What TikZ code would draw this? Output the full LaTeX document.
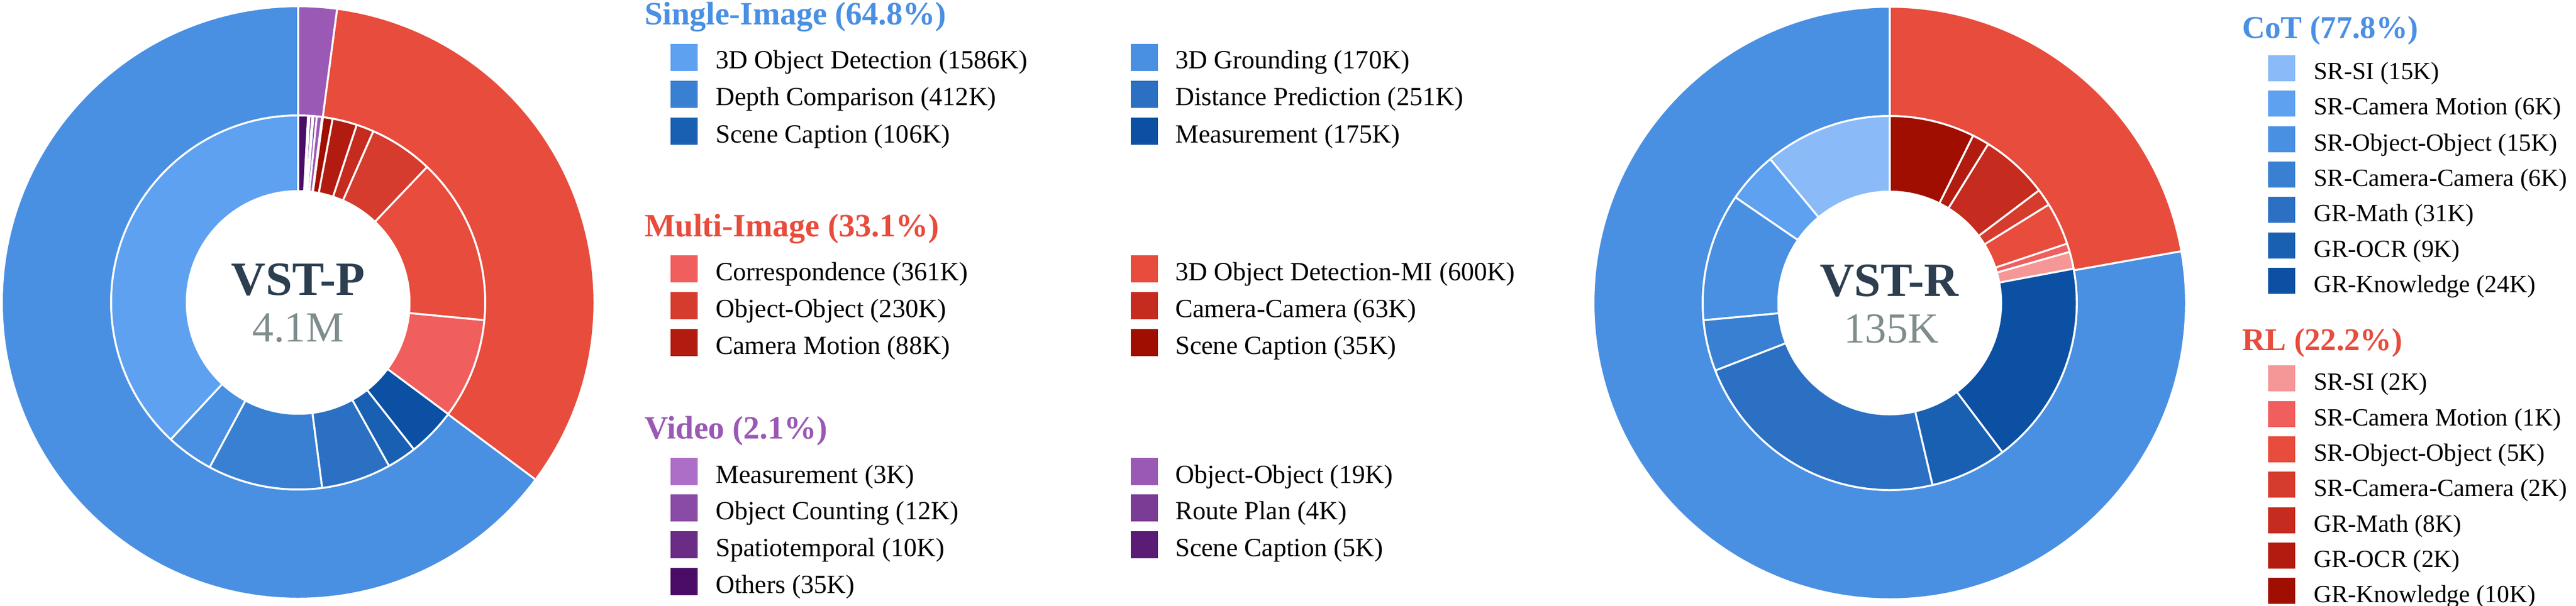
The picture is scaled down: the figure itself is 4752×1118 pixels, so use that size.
\documentclass[tikz,border=0pt]{standalone}
\usepackage{fontspec}
\setmainfont{Liberation Serif}
\definecolor{b1}{HTML}{8ABAF8}
\definecolor{b2}{HTML}{5DA1F0}
\definecolor{b3}{HTML}{4A90E2}
\definecolor{b4}{HTML}{3A80D2}
\definecolor{b5}{HTML}{2B70C2}
\definecolor{b6}{HTML}{1A60B2}
\definecolor{b7}{HTML}{0B50A2}
\definecolor{r1}{HTML}{F59797}
\definecolor{r2}{HTML}{F05E5E}
\definecolor{r3}{HTML}{E74C3C}
\definecolor{r4}{HTML}{D63C2E}
\definecolor{r5}{HTML}{C52B1E}
\definecolor{r6}{HTML}{B21C10}
\definecolor{r7}{HTML}{A00E00}
\definecolor{p1}{HTML}{AD6EC8}
\definecolor{p2}{HTML}{9B59B6}
\definecolor{p3}{HTML}{8A4BA6}
\definecolor{p4}{HTML}{7B3C95}
\definecolor{p5}{HTML}{6B2C86}
\definecolor{p6}{HTML}{5B1C76}
\definecolor{p7}{HTML}{4A0C66}
\definecolor{ctext}{HTML}{2C3E50}
\definecolor{cgray}{HTML}{7F8C8D}
% segment: center, r_in, r_out, a1, a2, colour
\newcommand\dseg[6]{\filldraw[seg, fill=#6, shift={(#1)}] (#4:#3) arc[start angle=#4, end angle=#5, radius=#3] -- (#5:#2) arc[start angle=#5, end angle=#4, radius=#2] -- cycle;}
% left legend item: name, swatch x, text x, top, colour, text
\newcommand\lgitem[6]{\fill[#5] (#2,-#4) rectangle ++(50,-50); \node[lgtext] (#1) at (#3,-#4-46) {#6};}
% right legend item
\newcommand\rgitem[6]{\fill[#5] (#2,-#4) rectangle ++(50,-48); \node[rgtext] (#1) at (#3,-#4-45) {#6};}
\tikzset{
  seg/.style={draw=white, line width=3.5pt, line join=round},
  lgtext/.style={anchor=base west, inner sep=0pt, font=\fontsize{48.3}{58}\selectfont, text=black},
  rgtext/.style={anchor=base west, inner sep=0pt, font=\fontsize{45.6}{56}\selectfont, text=black},
  lgtitle/.style={anchor=base west, inner sep=0pt, font=\fontsize{60}{72}\selectfont\bfseries},
  rgtitle/.style={anchor=base west, inner sep=0pt, font=\fontsize{58.5}{70}\selectfont\bfseries},
  bigname/.style={anchor=base, inner sep=0pt, font=\fontsize{88}{100}\selectfont\bfseries, text=ctext},
  bignum/.style={anchor=base, inner sep=0pt, font=\fontsize{79}{90}\selectfont, text=cgray},
}
\begin{document}
\begin{tikzpicture}[x=1pt,y=1pt]
\useasboundingbox (0,0) rectangle (4752,-1118);
\fill[white] (0,0) rectangle (4752,-1118);
\coordinate (cP) at (550,-558);
\coordinate (cR) at (3486,-559);
% ---------- VST-P outer ring ----------
\dseg{cP}{345}{546.5}{90}{323.28}{b3}
\dseg{cP}{345}{546.5}{323.28}{442.44}{r3}
\dseg{cP}{345}{546.5}{442.44}{450}{p2}
% ---------- VST-P inner ring ----------
\dseg{cP}{205.5}{345}{90}{227.085}{b2}
\dseg{cP}{205.5}{345}{227.085}{241.779}{b3}
\dseg{cP}{205.5}{345}{241.779}{277.390}{b4}
\dseg{cP}{205.5}{345}{277.390}{299.085}{b5}
\dseg{cP}{205.5}{345}{299.085}{308.247}{b6}
\dseg{cP}{205.5}{345}{308.247}{323.373}{b7}
\dseg{cP}{205.5}{345}{323.373}{354.576}{r2}
\dseg{cP}{205.5}{345}{354.576}{406.437}{r3}
\dseg{cP}{205.5}{345}{406.437}{426.317}{r4}
\dseg{cP}{205.5}{345}{426.317}{431.762}{r5}
\dseg{cP}{205.5}{345}{431.762}{439.368}{r6}
\dseg{cP}{205.5}{345}{439.368}{442.393}{r7}
\dseg{cP}{205.5}{345}{442.393}{442.652}{p1}
\dseg{cP}{205.5}{345}{442.652}{444.294}{p2}
\dseg{cP}{205.5}{345}{444.294}{445.331}{p3}
\dseg{cP}{205.5}{345}{445.331}{445.677}{p4}
\dseg{cP}{205.5}{345}{445.677}{446.541}{p5}
\dseg{cP}{205.5}{345}{446.541}{446.973}{p6}
\dseg{cP}{205.5}{345}{446.973}{450}{p7}
\node[bigname] (tP) at (550,-544) {VST-P};
\node[bignum] (nP) at (550,-630) {4.1M};
% ---------- VST-R outer ring ----------
\dseg{cR}{345}{546.5}{90}{370.08}{b3}
\dseg{cR}{345}{546.5}{370.08}{450}{r3}
% ---------- VST-R inner ring ----------
\dseg{cR}{205.5}{345}{90}{129.706}{b1}
\dseg{cR}{205.5}{345}{129.706}{145.588}{b2}
\dseg{cR}{205.5}{345}{145.588}{185.294}{b3}
\dseg{cR}{205.5}{345}{185.294}{201.176}{b4}
\dseg{cR}{205.5}{345}{201.176}{283.235}{b5}
\dseg{cR}{205.5}{345}{283.235}{307.059}{b6}
\dseg{cR}{205.5}{345}{307.059}{370.588}{b7}
\dseg{cR}{205.5}{345}{370.588}{375.882}{r1}
\dseg{cR}{205.5}{345}{375.882}{378.529}{r2}
\dseg{cR}{205.5}{345}{378.529}{391.765}{r3}
\dseg{cR}{205.5}{345}{391.765}{397.059}{r4}
\dseg{cR}{205.5}{345}{397.059}{418.235}{r5}
\dseg{cR}{205.5}{345}{418.235}{423.529}{r6}
\dseg{cR}{205.5}{345}{423.529}{450}{r7}
\node[bigname] (tR) at (3485,-546) {VST-R};
\node[bignum] (nR) at (3489,-632) {135K};
% ---------- left legend ----------
\node[lgtitle, text=b3] (hS) at (1189,-46) {Single-Image (64.8\%)};
\lgitem{s1}{1237}{1320}{81}{b2}{3D Object Detection (1586K)}
\lgitem{s2}{2086}{2168}{81}{b3}{3D Grounding (170K)}
\lgitem{s3}{1237}{1320}{149}{b4}{Depth Comparison (412K)}
\lgitem{s4}{2086}{2168}{149}{b5}{Distance Prediction (251K)}
\lgitem{s5}{1237}{1320}{217}{b6}{Scene Caption (106K)}
\lgitem{s6}{2086}{2168}{217}{b7}{Measurement (175K)}
\node[lgtitle, text=r3] (hM) at (1189,-436) {Multi-Image (33.1\%)};
\lgitem{m1}{1237}{1320}{471}{r2}{Correspondence (361K)}
\lgitem{m2}{2086}{2168}{471}{r3}{3D Object Detection-MI (600K)}
\lgitem{m3}{1237}{1320}{539}{r4}{Object-Object (230K)}
\lgitem{m4}{2086}{2168}{539}{r5}{Camera-Camera (63K)}
\lgitem{m5}{1237}{1320}{607}{r6}{Camera Motion (88K)}
\lgitem{m6}{2086}{2168}{607}{r7}{Scene Caption (35K)}
\node[lgtitle, text=p2] (hV) at (1189,-809) {Video (2.1\%)};
\lgitem{v1}{1237}{1320}{845}{p1}{Measurement (3K)}
\lgitem{v2}{2086}{2168}{845}{p2}{Object-Object (19K)}
\lgitem{v3}{1237}{1320}{912}{p3}{Object Counting (12K)}
\lgitem{v4}{2086}{2168}{912}{p4}{Route Plan (4K)}
\lgitem{v5}{1237}{1320}{980}{p5}{Spatiotemporal (10K)}
\lgitem{v6}{2086}{2168}{980}{p6}{Scene Caption (5K)}
\lgitem{v7}{1237}{1320}{1048}{p7}{Others (35K)}
% ---------- right legend ----------
\node[rgtitle, text=b3] (hC) at (4136,-71) {CoT (77.8\%)};
\rgitem{c1}{4184}{4268}{102}{b1}{SR-SI (15K)}
\rgitem{c2}{4184}{4268}{167}{b2}{SR-Camera Motion (6K)}
\rgitem{c3}{4184}{4268}{233}{b3}{SR-Object-Object (15K)}
\rgitem{c4}{4184}{4268}{298}{b4}{SR-Camera-Camera (6K)}
\rgitem{c5}{4184}{4268}{363}{b5}{GR-Math (31K)}
\rgitem{c6}{4184}{4268}{429}{b6}{GR-OCR (9K)}
\rgitem{c7}{4184}{4268}{494}{b7}{GR-Knowledge (24K)}
\node[rgtitle, text=r3] (hR) at (4136,-646) {RL (22.2\%)};
\rgitem{l1}{4184}{4268}{674}{r1}{SR-SI (2K)}
\rgitem{l2}{4184}{4268}{740}{r2}{SR-Camera Motion (1K)}
\rgitem{l3}{4184}{4268}{805}{r3}{SR-Object-Object (5K)}
\rgitem{l4}{4184}{4268}{870}{r4}{SR-Camera-Camera (2K)}
\rgitem{l5}{4184}{4268}{936}{r5}{GR-Math (8K)}
\rgitem{l6}{4184}{4268}{1001}{r6}{GR-OCR (2K)}
\rgitem{l7}{4184}{4268}{1066}{r7}{GR-Knowledge (10K)}
\end{tikzpicture}
\end{document}
